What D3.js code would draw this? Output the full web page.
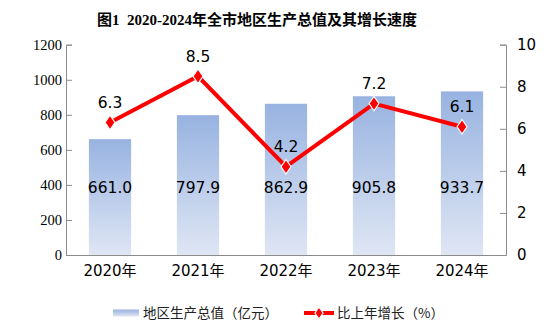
<!DOCTYPE html>
<html>
<head>
<meta charset="utf-8">
<script src="https://cdn.jsdelivr.net/npm/d3@7"></script>
<style>
    html, body { margin: 0; padding: 0; background: #fff; }
    svg { display: block; }
</style>
</head>
<body>
<div id="chart"></div>
<script>
// Chart data
const years = ['2020年', '2021年', '2022年', '2023年', '2024年'];
const gdpValues = [661.0, 797.9, 862.9, 905.8, 933.7];
const growthValues = [6.3, 8.5, 4.2, 7.2, 6.1];
const leftTicks = [0, 200, 400, 600, 800, 1000, 1200];
const rightTicks = [0, 2, 4, 6, 8, 10];

const title = '图1  2020-2024年全市地区生产总值及其增长速度';
const barLegend = '地区生产总值（亿元）';
const lineLegend = '比上年增长（%）';

const width = 560;
const height = 334;
const margin = { top: 44.7, right: 54, bottom: 79, left: 66 };

const sansFont = '"DejaVu Sans", "Noto Sans CJK SC", sans-serif';
const serifFont = '"Liberation Serif", "Noto Sans CJK SC", serif';

const svg = d3.select('#chart')
    .append('svg')
    .attr('width', width)
    .attr('height', height);

// Gradient for the bars (darker at top, paler at the bottom)
const defs = svg.append('defs');
const grad = defs.append('linearGradient')
    .attr('id', 'barGrad')
    .attr('x1', 0).attr('y1', 0)
    .attr('x2', 0).attr('y2', 1);
grad.append('stop').attr('offset', '0%').attr('stop-color', '#98b3e1');
grad.append('stop').attr('offset', '100%').attr('stop-color', '#dfe6f4');

const x = d3.scaleBand()
    .domain(years)
    .range([margin.left, width - margin.right])
    .paddingInner(0.52)
    .paddingOuter(0.26);

const yLeft = d3.scaleLinear()
    .domain([0, 1200])
    .range([height - margin.bottom, margin.top]);

const yRight = d3.scaleLinear()
    .domain([0, 10])
    .range([height - margin.bottom, margin.top]);

// Title (keep the double space after 图1)
svg.append('text')
    .attr('x', 257)
    .attr('y', 20)
    .attr('dy', '0.35em')
    .attr('text-anchor', 'middle')
    .style('white-space', 'pre')
    .style('font-family', serifFont)
    .style('font-size', '15px')
    .style('font-weight', 'bold')
    .attr('fill', '#000')
    .text(title);

// Bars
svg.append('g')
    .selectAll('rect')
    .data(gdpValues)
    .join('rect')
    .attr('x', (d, i) => x(years[i]))
    .attr('y', d => yLeft(d))
    .attr('width', x.bandwidth())
    .attr('height', d => yLeft(0) - yLeft(d))
    .attr('fill', 'url(#barGrad)');

// Left axis
const leftAxis = svg.append('g')
    .attr('transform', `translate(${margin.left},0)`)
    .call(d3.axisRight(yLeft).tickValues(leftTicks).tickSize(6).tickFormat(d3.format('d')));
leftAxis.select('.domain').attr('stroke', '#8c8c8c');
leftAxis.selectAll('.tick line').attr('stroke', '#8c8c8c');
leftAxis.selectAll('.tick text')
    .attr('x', -4)
    .attr('text-anchor', 'end')
    .style('font-family', serifFont)
    .style('font-size', '14.5px')
    .attr('fill', '#000');

// Right axis
const rightAxis = svg.append('g')
    .attr('transform', `translate(${width - margin.right},0)`)
    .call(d3.axisLeft(yRight).tickValues(rightTicks).tickSize(6));
rightAxis.select('.domain').attr('stroke', '#8c8c8c');
rightAxis.selectAll('.tick line').attr('stroke', '#8c8c8c');
rightAxis.selectAll('.tick text')
    .attr('x', 11)
    .attr('text-anchor', 'start')
    .style('font-family', sansFont)
    .style('font-size', '15px')
    .attr('fill', '#000');

// Bottom axis
const bottomAxis = svg.append('g')
    .attr('transform', `translate(0,${yLeft(0)})`)
    .call(d3.axisBottom(x).tickSize(0).tickPadding(10));
bottomAxis.select('.domain').attr('stroke', '#8c8c8c');
bottomAxis.selectAll('.tick text')
    .attr('dy', '0.71em')
    .style('font-family', sansFont)
    .style('font-size', '15px')
    .attr('fill', '#000');

// Bar value labels
svg.append('g')
    .selectAll('text')
    .data(gdpValues)
    .join('text')
    .attr('x', (d, i) => x(years[i]) + x.bandwidth() / 2)
    .attr('y', 188)
    .attr('dy', '0.35em')
    .attr('text-anchor', 'middle')
    .style('font-family', sansFont)
    .style('font-size', '15.5px')
    .attr('fill', '#000')
    .text(d => d.toFixed(1));

// Growth line
const cx = (d, i) => x(years[i]) + x.bandwidth() / 2;
const line = d3.line()
    .x(cx)
    .y(d => yRight(d));

svg.append('path')
    .datum(growthValues)
    .attr('fill', 'none')
    .attr('stroke', '#ff0000')
    .attr('stroke-width', 4)
    .attr('stroke-linejoin', 'miter')
    .attr('d', line);

const diamond = d3.symbol().type(d3.symbolDiamond).size(60);

svg.append('g')
    .selectAll('path')
    .data(growthValues)
    .join('path')
    .attr('transform', (d, i) => `translate(${cx(d, i)},${yRight(d)}) scale(1.2,1)`)
    .attr('d', diamond)
    .attr('fill', '#ff0000')
    .attr('stroke', '#fff')
    .attr('stroke-width', 1);

// Growth labels
svg.append('g')
    .selectAll('text')
    .data(growthValues)
    .join('text')
    .attr('x', cx)
    .attr('y', d => yRight(d) - 20)
    .attr('dy', '0.35em')
    .attr('text-anchor', 'middle')
    .style('font-family', sansFont)
    .style('font-size', '15.5px')
    .attr('fill', '#000')
    .text(d => d.toFixed(1));

// Legend
const legend = svg.append('g').attr('transform', 'translate(0,313)');

legend.append('rect')
    .attr('x', 113)
    .attr('y', -3.5)
    .attr('width', 26)
    .attr('height', 7)
    .attr('fill', 'url(#barGrad)');

legend.append('text')
    .attr('x', 143)
    .attr('dy', '0.35em')
    .style('font-family', '"Noto Sans CJK SC", sans-serif')
    .style('font-size', '13.5px')
    .attr('fill', '#222')
    .text(barLegend);

legend.append('line')
    .attr('x1', 304).attr('x2', 334)
    .attr('stroke', '#ff0000')
    .attr('stroke-width', 4);

legend.append('path')
    .attr('transform', 'translate(319,0) scale(1.2,1)')
    .attr('d', d3.symbol().type(d3.symbolDiamond).size(40))
    .attr('fill', '#ff0000')
    .attr('stroke', '#fff')
    .attr('stroke-width', 1);

legend.append('text')
    .attr('x', 337)
    .attr('dy', '0.35em')
    .style('font-family', '"Noto Sans CJK SC", sans-serif')
    .style('font-size', '13.5px')
    .attr('fill', '#222')
    .text(lineLegend);
</script>
</body>
</html>
